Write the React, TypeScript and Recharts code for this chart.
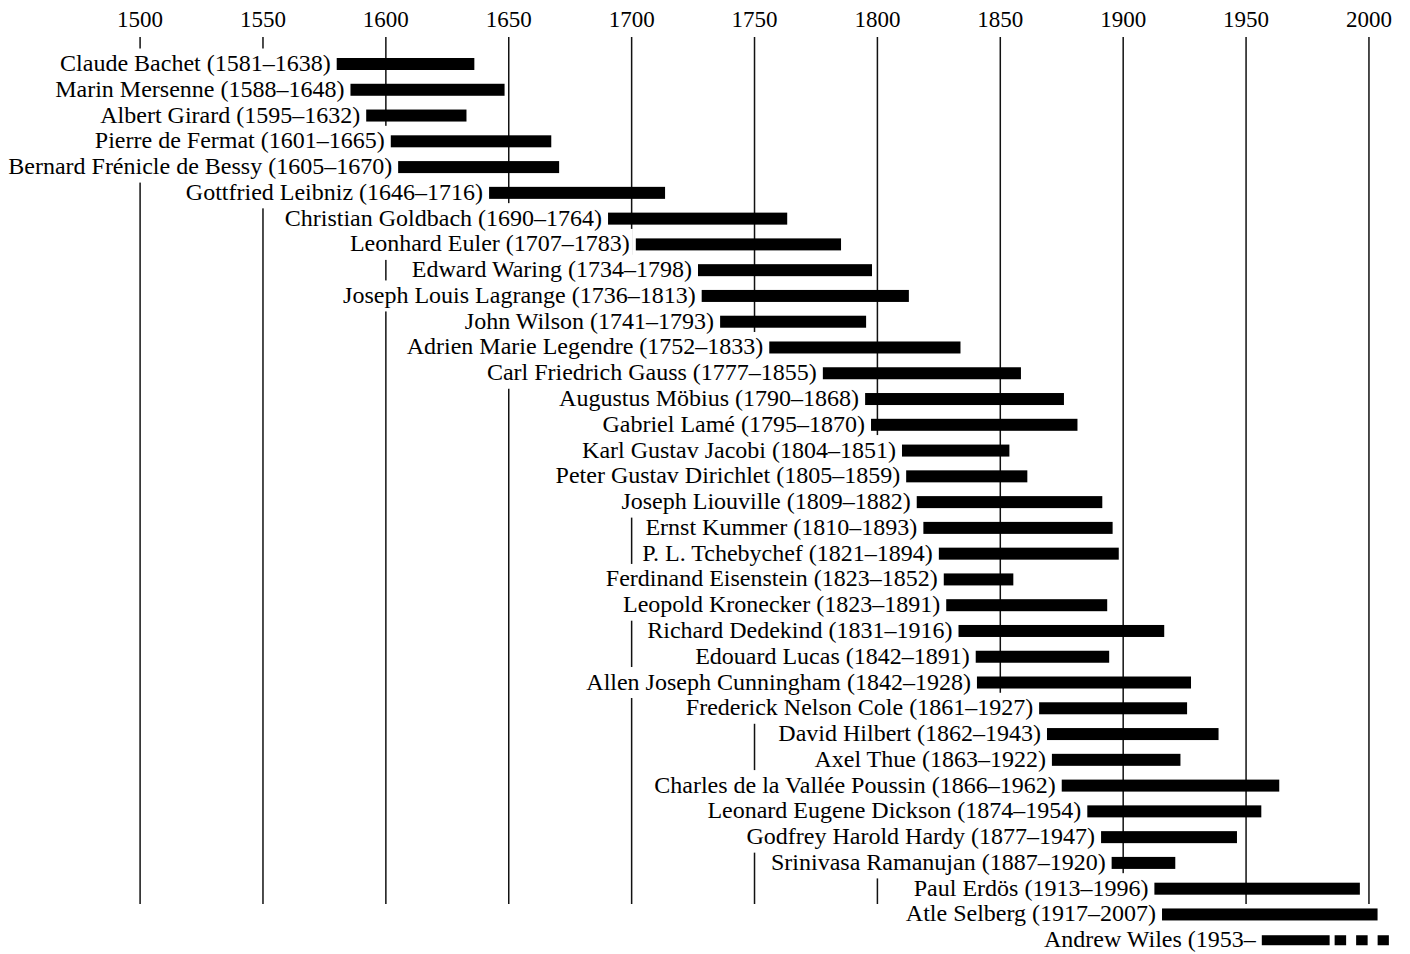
import { BarChart, Bar, XAxis, YAxis, CartesianGrid, LabelList } from 'recharts';

// Number theorists and their lifespans
const NAMES = [
  'Claude Bachet',
  'Marin Mersenne',
  'Albert Girard',
  'Pierre de Fermat',
  'Bernard Frénicle de Bessy',
  'Gottfried Leibniz',
  'Christian Goldbach',
  'Leonhard Euler',
  'Edward Waring',
  'Joseph Louis Lagrange',
  'John Wilson',
  'Adrien Marie Legendre',
  'Carl Friedrich Gauss',
  'Augustus Möbius',
  'Gabriel Lamé',
  'Karl Gustav Jacobi',
  'Peter Gustav Dirichlet',
  'Joseph Liouville',
  'Ernst Kummer',
  'P. L. Tchebychef',
  'Ferdinand Eisenstein',
  'Leopold Kronecker',
  'Richard Dedekind',
  'Edouard Lucas',
  'Allen Joseph Cunningham',
  'Frederick Nelson Cole',
  'David Hilbert',
  'Axel Thue',
  'Charles de la Vallée Poussin',
  'Leonard Eugene Dickson',
  'Godfrey Harold Hardy',
  'Srinivasa Ramanujan',
  'Paul Erdös',
  'Atle Selberg',
  'Andrew Wiles',
];

// years printed in the labels
const BORN = [
  1581, 1588, 1595, 1601, 1605, 1646, 1690, 1707, 1734, 1736, 1741, 1752, 1777, 1790, 1795, 1804, 1805, 1809,
  1810, 1821, 1823, 1823, 1831, 1842, 1842, 1861, 1862, 1863, 1866, 1874, 1877, 1887, 1913, 1917, 1953,
];

const DIED: (number | null)[] = [
  1638, 1648, 1632, 1665, 1670, 1716, 1764, 1783, 1798, 1813, 1793, 1833, 1855, 1868, 1870, 1851, 1859, 1882,
  1893, 1894, 1852, 1891, 1916, 1891, 1928, 1927, 1943, 1922, 1962, 1954, 1947, 1920, 1996, 2007, null,
];

// bar extents as drawn (they don't always match the printed years exactly)
const BAR_FROM = [
  1580, 1585.6, 1592, 1602, 1605, 1642, 1690.4, 1701.7, 1727, 1728.5, 1736, 1756, 1777.8, 1795, 1797.4, 1810,
  1811.7, 1816, 1818.7, 1825, 1827, 1828, 1833, 1840, 1840.5, 1865.8, 1869, 1871, 1875, 1885.4, 1891, 1895.3,
  1912.7, 1915.8, 1956.4,
];

const BAR_TO = [
  1636, 1648.3, 1632.8, 1667.3, 1670.5, 1713.6, 1763.3, 1785.2, 1797.8, 1812.8, 1795.4, 1833.8, 1858.4, 1875.9,
  1881.4, 1853.7, 1861, 1891.5, 1895.7, 1898.2, 1855.3, 1893.5, 1916.7, 1894.3, 1927.6, 1926, 1938.8, 1923.3,
  1963.5, 1956.2, 1946.3, 1921.2, 1996.3, 2003.5, 2008.1,
];

// still alive: solid up to here, dashes after
const OPEN_SOLID_TO = 1984;

const YEAR_TICKS = [1500, 1550, 1600, 1650, 1700, 1750, 1800, 1850, 1900, 1950, 2000];
const X_DOMAIN = [1443, 2016.7];

const FONT = '"Liberation Serif", "Times New Roman", serif';
const LABEL_SIZE = 24;
const LABEL_GAP = 6;

const data = NAMES.map((name, i) => {
  const died = DIED[i];
  return {
    name,
    label: died == null ? `${name} (${BORN[i]}–` : `${name} (${BORN[i]}–${died})`,
    span: [BAR_FROM[i], BAR_TO[i]],
    dashFrom: died == null ? OPEN_SOLID_TO : null,
  };
});

let ctx: CanvasRenderingContext2D | null = null;
function textWidth(s: string) {
  if (!ctx) ctx = document.createElement('canvas').getContext('2d');
  if (!ctx) return s.length * 11;
  ctx.font = `${LABEL_SIZE}px "Liberation Serif"`;
  return ctx.measureText(s).width;
}

// white box behind the label (hides grid lines) + the lifespan bar
function LifeBar(props: any) {
  const { x, y, width, height, payload } = props;
  const cy = y + height / 2;
  const w = textWidth(payload.label);
  const boxLeft = x - LABEL_GAP - w - 3;
  const boxRight = x - 3;

  let bar;
  if (payload.dashFrom == null) {
    bar = <rect x={x} y={y} width={width} height={height} fill="#000" />;
  } else {
    const [start, end] = payload.span;
    const k = width / (end - start);
    const solidW = (payload.dashFrom - start) * k;
    bar = (
      <g>
        <rect x={x} y={cy - 5} width={solidW} height={10} fill="#000" />
        <line
          x1={x + solidW + 5}
          x2={x + width}
          y1={cy}
          y2={cy}
          stroke="#000"
          strokeWidth={10}
          strokeDasharray="11.5 10"
        />
      </g>
    );
  }

  return (
    <g>
      <rect x={boxLeft} y={cy - 15.5} width={boxRight - boxLeft} height={31} fill="#fff" />
      {bar}
    </g>
  );
}

function NameLabel(p: any) {
  const vb = p.viewBox ?? p;
  const x = vb.x ?? p.x;
  const y = vb.y ?? p.y;
  const h = vb.height ?? p.height;
  return (
    <text x={x - LABEL_GAP} y={y + h / 2 + 7} textAnchor="end" fontSize={LABEL_SIZE} fontFamily={FONT} fill="#000">
      {p.value}
    </text>
  );
}

function YearTick(p: any) {
  return (
    <text x={p.x} y={p.y - 16} textAnchor="middle" fontSize={23} fontFamily={FONT} fill="#000">
      {p.payload.value}
    </text>
  );
}

function gridX({ xAxis, offset }: any) {
  if (xAxis && typeof xAxis.scale === 'function') return YEAR_TICKS.map((t) => xAxis.scale(t));
  const [d0, d1] = X_DOMAIN;
  return YEAR_TICKS.map((t) => offset.left + ((t - d0) / (d1 - d0)) * offset.width);
}

export default function App() {
  return (
    <div style={{ position: 'absolute', left: 0, top: 0, width: 1410, height: 954, background: '#fff' }}>
      <BarChart width={1410} height={954} data={data} layout="vertical" margin={{ top: 0, right: 0, bottom: 1, left: 0 }}>
        <CartesianGrid
          horizontal={false}
          vertical
          stroke="#111"
          strokeWidth={1.5}
          y={37}
          height={867}
          verticalCoordinatesGenerator={gridX}
        />
        <XAxis
          type="number"
          orientation="top"
          domain={X_DOMAIN}
          allowDataOverflow
          ticks={YEAR_TICKS}
          interval={0}
          axisLine={false}
          tickLine={false}
          height={51}
          tick={YearTick}
        />
        <YAxis type="category" dataKey="name" hide />
        <Bar dataKey="span" barSize={12} shape={LifeBar} isAnimationActive={false}>
          <LabelList dataKey="label" content={NameLabel} />
        </Bar>
      </BarChart>
    </div>
  );
}
